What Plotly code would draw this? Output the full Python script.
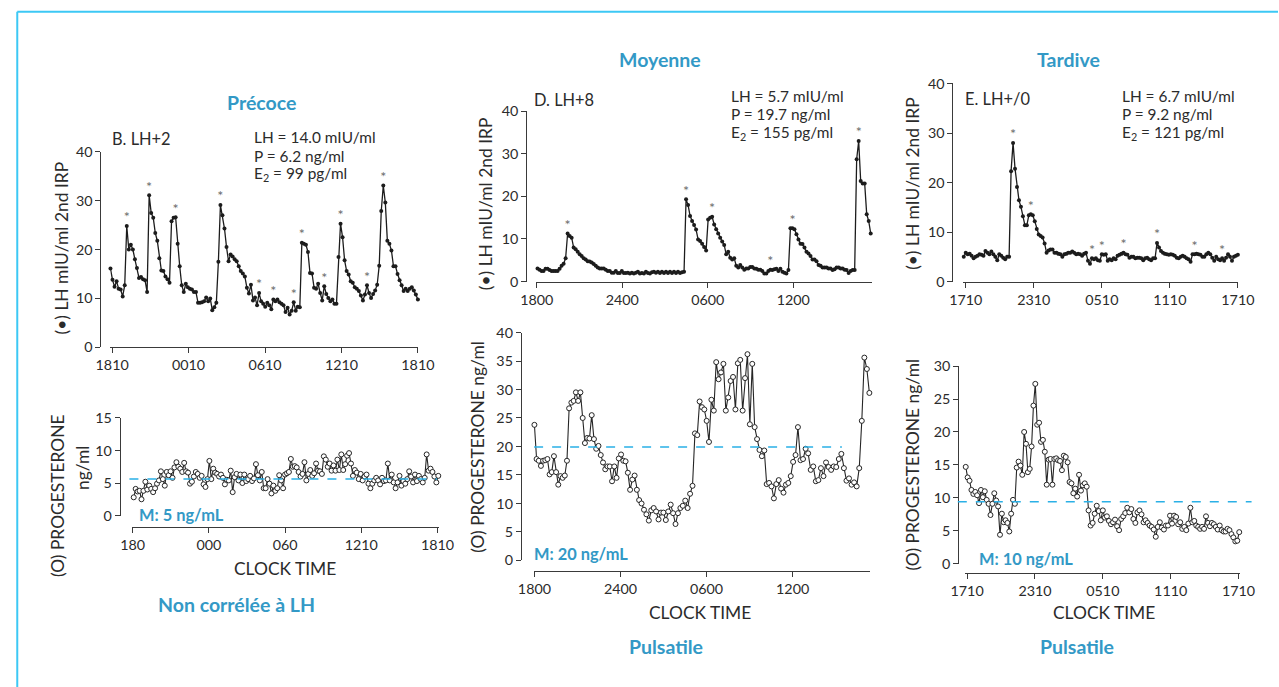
import numpy as np
import plotly.graph_objects as go

# Calibration of the photographed page: a figure pixel f lands at
# A + S * f in the picture. Everything below is laid out in picture pixels.
AX, SX = 15.5, 0.976
AY, SY = 7.7, 0.977
W, H = 1294, 695
FS = 1 / SX  # font scale so text keeps its picture size

FONT = "Lato"
INK = "#2b2b2b"
BLUE_TXT = "#3399c6"
BLUE_LINE = "#2ab0e6"
BORDER = "#3cc8f5"

# ---------------- data ----------------
hour_ticks = [0, 6, 12, 18, 24]
B_lh_ticklabels = ["1810", "0010", "0610", "1210", "1810"]
B_p_ticklabels = ["180", "000", "060", "1210", "1810"]
D_hour_ticks = [0, 6, 12, 18]
D_ticklabels = ["1800", "2400", "0600", "1200"]
E_ticklabels = ["1710", "2310", "0510", "1110", "1710"]

# Panel B (LH+2) - LH, mIU/ml
B_lh = [16.1, 13.8, 12.4, 13.5, 12.0, 11.8, 10.4, 12.7, 24.8, 20.0,
        21.0, 20.0, 18.0, 16.2, 14.2, 14.4, 13.9, 13.7, 11.3, 31.1,
        27.5, 26.5, 23.4, 21.8, 18.2, 15.7, 15.6, 14.5, 13.9, 13.2,
        25.8, 26.5, 26.6, 21.2, 16.6, 12.7, 11.3, 13.0, 12.3, 12.0,
        11.8, 11.3, 11.3, 9.1, 9.1, 9.2, 9.4, 10.2, 9.4, 10.0,
        7.6, 8.2, 9.1, 17.5, 29.1, 27.0, 24.3, 20.5, 17.6, 19.0,
        18.6, 18.0, 17.6, 16.6, 15.6, 15.1, 14.5, 12.2, 11.0, 12.8,
        9.6, 10.2, 8.6, 11.1, 9.4, 8.9, 8.3, 9.1, 8.6, 7.8,
        9.8, 9.4, 9.8, 9.2, 8.9, 8.6, 7.2, 8.1, 6.7, 7.5,
        9.2, 7.5, 8.3, 8.2, 21.4, 21.2, 21.0, 19.5, 15.2, 15.1,
        12.2, 12.0, 13.0, 11.1, 9.6, 12.5, 10.9, 10.1, 9.4, 9.8,
        8.9, 8.9, 18.5, 25.3, 22.5, 17.8, 15.6, 14.9, 13.5, 13.2,
        12.3, 12.0, 11.5, 10.6, 9.6, 10.8, 12.7, 11.1, 10.1, 10.9,
        11.6, 12.8, 16.7, 27.9, 33.1, 29.6, 21.8, 21.2, 19.8, 16.6,
        16.6, 15.0, 13.7, 12.7, 11.5, 12.0, 11.5, 12.0, 12.3, 11.6,
        10.8, 9.8]
B_lh_anchor_idx = [0, 151]
B_lh_anchor_h = [-0.13, 24.0]
B_lh_pulses = [8, 19, 32, 54, 73, 80, 90, 94, 105, 113, 126, 134]

# Panel B - progesterone, ng/ml
B_p = [2.8, 4.1, 3.7, 3.8, 2.5, 3.8, 5.2, 4.0, 4.6, 4.1,
       3.6, 4.2, 4.9, 5.4, 6.8, 5.6, 4.6, 6.7, 6.2, 6.8,
       5.8, 7.4, 8.2, 7.5, 7.2, 6.7, 8.1, 6.8, 6.6, 4.9,
       5.2, 6.0, 6.7, 6.4, 5.8, 6.1, 4.8, 4.4, 5.6, 8.4,
       5.6, 7.2, 6.6, 6.4, 6.0, 6.3, 5.8, 4.8, 5.5, 5.4,
       6.9, 3.6, 5.9, 6.4, 5.4, 6.3, 5.0, 6.3, 5.3, 5.6,
       6.1, 5.3, 5.7, 7.9, 6.2, 5.4, 6.7, 4.2, 4.2, 5.6,
       4.9, 3.4, 4.6, 3.8, 4.2, 6.2, 5.4, 4.2, 6.3, 6.5,
       6.7, 8.7, 7.5, 7.6, 7.4, 6.7, 6.0, 6.4, 8.2, 5.4,
       6.4, 7.0, 6.1, 6.5, 8.0, 6.9, 6.8, 6.4, 9.1, 8.6,
       7.5, 8.0, 6.9, 7.7, 6.9, 8.6, 7.0, 9.4, 7.0, 7.9,
       9.2, 9.6, 8.0, 6.1, 7.0, 6.6, 5.6, 6.4, 5.4, 6.0,
       6.3, 4.9, 4.2, 4.9, 5.4, 5.8, 5.4, 4.8, 5.8, 5.3,
       5.4, 8.0, 5.4, 6.3, 5.1, 4.2, 5.1, 6.1, 4.6, 5.3,
       4.9, 5.6, 6.8, 6.0, 5.1, 6.3, 5.3, 6.1, 5.6, 5.1,
       5.8, 9.4, 6.9, 7.2, 6.7, 6.0, 5.1, 6.1]
B_p_anchor_idx = [0, 157]
B_p_anchor_h = [0.08, 24.06]
B_p_mean_level = 5.6
B_p_label = "M: 5 ng/mL"

# Panel D (LH+8) - LH
D_lh = [3.1, 2.8, 2.5, 2.5, 3.0, 3.0, 2.7, 2.5, 2.5, 2.5,
        2.5, 3.0, 3.7, 4.2, 5.5, 11.3, 10.7, 10.3, 8.0, 7.6,
        7.0, 6.4, 6.0, 5.5, 5.2, 4.8, 4.7, 4.5, 4.1, 3.7,
        3.3, 3.1, 3.1, 3.1, 2.8, 2.5, 2.5, 2.1, 2.1, 2.5,
        2.0, 2.0, 2.5, 2.0, 2.0, 2.1, 1.9, 2.1, 1.9, 2.1,
        2.3, 1.9, 2.0, 1.9, 2.3, 2.0, 1.9, 2.2, 2.3, 2.1,
        2.3, 2.0, 2.3, 2.0, 2.3, 2.0, 2.3, 2.0, 2.3, 2.0,
        2.3, 2.0, 2.2, 2.3, 19.3, 18.0, 15.4, 14.2, 13.3, 12.2,
        9.9, 9.5, 8.9, 8.1, 7.3, 14.6, 15.0, 15.2, 13.4, 12.3,
        11.3, 10.3, 9.4, 8.6, 6.4, 7.0, 5.6, 5.2, 5.5, 3.7,
        3.3, 3.9, 3.3, 2.8, 3.1, 3.1, 3.4, 3.4, 3.1, 3.0,
        2.8, 2.8, 2.5, 1.9, 1.9, 2.5, 2.8, 2.7, 2.9, 3.0,
        2.5, 3.0, 2.3, 2.1, 1.9, 2.7, 12.5, 12.5, 12.3, 11.1,
        9.9, 8.9, 8.8, 8.0, 7.0, 6.6, 6.0, 5.2, 5.2, 4.8,
        3.9, 3.7, 3.3, 3.3, 3.3, 3.1, 3.1, 2.7, 2.9, 3.3,
        3.3, 3.1, 3.1, 2.8, 2.7, 2.0, 2.5, 2.7, 2.7, 28.7,
        33.0, 23.6, 23.0, 23.0, 15.8, 14.2, 11.3]
D_lh_anchor_idx = [0, 166]
D_lh_anchor_h = [0.05, 23.44]
D_lh_pulses = [15, 74, 87, 116, 127, 160]

# Panel D - progesterone
D_p = [23.8, 17.8, 17.5, 16.6, 17.5, 17.6, 17.8, 15.1, 15.5, 18.3,
       15.5, 13.3, 14.8, 14.5, 14.9, 17.5, 26.7, 27.7, 28.0, 29.5,
       28.0, 29.5, 25.0, 20.6, 21.5, 21.4, 25.5, 21.3, 19.6, 20.1,
       18.5, 17.2, 16.0, 16.5, 16.5, 13.9, 16.5, 14.5, 17.9, 18.6,
       17.5, 17.4, 15.4, 12.4, 14.2, 14.9, 12.4, 10.6, 10.0, 8.9,
       8.1, 7.0, 8.8, 9.2, 8.6, 7.2, 8.4, 8.4, 7.1, 8.6,
       9.8, 8.3, 6.4, 8.3, 9.2, 9.6, 10.5, 9.2, 11.7, 13.1,
       22.3, 22.0, 27.9, 26.9, 26.5, 24.5, 20.8, 28.2, 26.3, 34.8,
       31.8, 33.0, 34.5, 26.3, 28.6, 31.5, 32.2, 26.5, 34.6, 35.2,
       26.3, 32.0, 36.2, 23.9, 34.5, 23.4, 21.3, 19.4, 18.3, 19.3,
       13.4, 13.6, 13.0, 10.9, 13.4, 14.1, 12.6, 11.9, 13.3, 13.6,
       14.8, 17.3, 18.5, 23.4, 17.6, 17.8, 19.6, 18.8, 15.9, 16.5,
       13.9, 14.1, 16.2, 14.8, 17.2, 16.4, 15.9, 16.5, 16.4, 17.8,
       18.7, 16.2, 14.0, 14.4, 13.3, 13.7, 13.0, 16.2, 24.5, 35.6,
       33.6, 29.4]
D_p_anchor_idx = [0, 16, 47, 70, 76, 113, 139, 141]
D_p_anchor_h = [0.0, 2.42, 7.30, 11.19, 12.17, 18.37, 23.0, 23.35]
D_p_mean_level = 19.9
D_p_label = "M: 20 ng/mL"

# Panel E (LH+/0) - LH
E_lh = [5.0, 5.8, 5.5, 5.6, 5.2, 4.7, 5.0, 5.2, 5.5, 5.4,
        5.2, 6.2, 5.8, 5.5, 6.1, 5.5, 5.0, 4.3, 5.5, 5.2,
        4.8, 4.5, 5.0, 5.0, 22.3, 28.0, 22.8, 19.1, 16.4, 15.1,
        13.2, 11.4, 11.4, 13.4, 13.6, 13.4, 12.2, 10.6, 9.5, 9.2,
        8.9, 7.7, 5.8, 6.3, 6.5, 6.5, 5.8, 5.8, 5.6, 5.5,
        5.0, 5.5, 5.6, 5.8, 5.8, 6.1, 5.8, 5.5, 5.6, 5.5,
        5.2, 5.6, 5.8, 4.2, 3.6, 4.7, 4.5, 4.7, 4.3, 4.2,
        5.5, 5.4, 5.5, 4.2, 4.5, 4.3, 4.7, 4.5, 5.2, 5.4,
        5.6, 5.8, 5.5, 5.4, 4.8, 5.0, 5.0, 4.7, 4.8, 4.8,
        4.7, 4.3, 4.7, 4.8, 4.5, 4.3, 4.7, 4.7, 7.8, 6.9,
        6.2, 5.8, 5.6, 5.5, 5.4, 5.5, 5.4, 5.2, 4.8, 4.7,
        5.0, 5.2, 5.0, 4.7, 4.5, 4.0, 5.5, 5.5, 5.6, 5.5,
        5.4, 5.0, 5.0, 5.5, 5.8, 5.5, 4.8, 4.2, 5.0, 4.5,
        4.3, 4.7, 4.2, 4.8, 5.5, 5.0, 4.2, 5.0, 5.2, 5.4]
E_lh_anchor_idx = [0, 139]
E_lh_anchor_h = [-0.18, 24.0]
E_lh_pulses = [25, 34, 65, 70, 81, 98, 117, 131]

# Panel E - progesterone
E_p = [14.7, 13.1, 12.6, 11.2, 10.6, 10.9, 10.4, 9.2, 11.2, 10.1,
       11.0, 9.7, 9.1, 7.4, 9.1, 10.7, 9.6, 8.7, 4.4, 7.6,
       6.3, 6.6, 6.2, 4.9, 7.6, 9.7, 9.1, 14.6, 15.5, 14.9,
       13.5, 20.0, 18.2, 13.9, 14.4, 17.8, 24.0, 27.3, 21.1, 21.4,
       18.5, 18.8, 17.0, 12.0, 15.8, 15.9, 12.0, 15.9, 16.0, 15.7,
       15.6, 14.2, 16.4, 16.2, 15.4, 12.4, 12.2, 10.7, 11.4, 10.2,
       13.5, 11.1, 11.9, 12.2, 11.7, 8.1, 5.8, 6.2, 7.6, 8.8,
       8.0, 6.6, 8.1, 7.0, 7.2, 6.5, 6.0, 6.3, 6.7, 5.7,
       5.1, 6.8, 7.2, 7.7, 8.5, 7.8, 8.3, 6.8, 6.2, 7.8,
       8.1, 7.5, 6.3, 6.6, 6.2, 5.8, 5.6, 5.2, 4.1, 5.6,
       6.3, 5.5, 5.2, 5.8, 5.8, 7.3, 6.1, 7.3, 7.1, 6.0,
       6.3, 5.3, 5.6, 5.1, 6.1, 8.5, 6.3, 6.5, 5.8, 5.6,
       5.3, 5.6, 5.3, 7.2, 6.2, 5.7, 6.2, 6.0, 5.6, 5.2,
       5.8, 5.1, 4.9, 4.9, 5.3, 5.1, 4.5, 4.0, 3.4, 3.5,
       4.8]
E_p_anchor_idx = [0, 18, 37, 65, 115, 140]
E_p_anchor_h = [-0.12, 2.91, 6.03, 10.74, 19.74, 24.06]
E_p_mean_level = 9.4
E_p_label = "M: 10 ng/mL"


def sample_hours(values, a_idx, a_h):
    return np.interp(np.arange(len(values)), a_idx, a_h)


# ---------------- helpers (picture pixels -> paper fractions) ----------------
def fx(px):
    return (px - AX) / SX / W


def fy(py):
    return 1 - (py - AY) / SY / H


def fs(size):
    return round(size * FS, 1)


fig = go.Figure()
layout_axes = {}
shapes = []
annotations = []


def add_panel(n, x0px, ppu, xr, y0px, ytop_px, ytop, ydtick, yline_px,
              xline_px, tickvals, ticktext):
    xa = "xaxis" if n == 1 else f"xaxis{n}"
    ya = "yaxis" if n == 1 else f"yaxis{n}"
    ax_common = dict(showline=True, linecolor="#3a3a3a", linewidth=1,
                     ticks="outside", ticklen=5, tickwidth=1, tickcolor="#3a3a3a",
                     showgrid=False, zeroline=False,
                     tickfont=dict(family=FONT, size=fs(14), color=INK))
    xdict = dict(ax_common, domain=[fx(x0px + xr[0] * ppu), fx(x0px + xr[1] * ppu)],
                 range=xr, tickvals=tickvals, ticktext=ticktext)
    if xline_px is None:
        xdict["anchor"] = "y" if n == 1 else f"y{n}"
    else:
        xdict["anchor"] = "free"
        xdict["position"] = fy(xline_px)
    ydict = dict(ax_common, domain=[fy(y0px), fy(ytop_px)], range=[0, ytop],
                 dtick=ydtick, tick0=0, anchor="free", position=fx(yline_px))
    layout_axes[xa] = xdict
    layout_axes[ya] = ydict
    return ("x" if n == 1 else f"x{n}"), ("y" if n == 1 else f"y{n}")


def lh_trace(xax, yax, vals, aidx, ah, pulses):
    t = sample_hours(vals, aidx, ah)
    fig.add_trace(go.Scatter(x=t, y=vals, xaxis=xax, yaxis=yax, mode="lines+markers",
                             line=dict(color="#1c1c1c", width=1.3),
                             marker=dict(size=4, color="#1c1c1c"),
                             cliponaxis=False, hoverinfo="skip"))
    fig.add_trace(go.Scatter(x=[t[i] for i in pulses], y=[vals[i] for i in pulses],
                             xaxis=xax, yaxis=yax, mode="text", text=["*"] * len(pulses),
                             textposition="top center",
                             textfont=dict(family=FONT, size=fs(14), color="#6a6a6a"),
                             cliponaxis=False, hoverinfo="skip"))


def p_trace(xax, yax, vals, aidx, ah):
    t = sample_hours(vals, aidx, ah)
    fig.add_trace(go.Scatter(x=t, y=vals, xaxis=xax, yaxis=yax, mode="lines+markers",
                             line=dict(color="#262626", width=1.1),
                             marker=dict(size=5, color="white",
                                         line=dict(color="#262626", width=1)),
                             cliponaxis=False, hoverinfo="skip"))


def dashed(yax, level, x0px, x1px):
    shapes.append(dict(type="line", xref="paper", yref=yax,
                       x0=fx(x0px), x1=fx(x1px), y0=level, y1=level,
                       line=dict(color=BLUE_LINE, width=1.5, dash="dash")))


def ann(text, xpx, ypx, size, color=INK, bold=False, xanchor="center", angle=0):
    if bold:
        text = f"<b>{text}</b>"
    annotations.append(dict(text=text, x=fx(xpx), y=fy(ypx), xref="paper", yref="paper",
                            xanchor=xanchor, yanchor="middle", showarrow=False,
                            textangle=angle,
                            font=dict(family=FONT, size=fs(size), color=color)))


# ---------------- panels ----------------
xa, ya = add_panel(1, 111.7, 12.75, [-0.15, 24.02], 346.5, 150.7, 40, 10, 100, None,
                   hour_ticks, B_lh_ticklabels)
lh_trace(xa, ya, B_lh, B_lh_anchor_idx, B_lh_anchor_h, B_lh_pulses)

xa, ya = add_panel(2, 132.3, 12.71, [-0.02, 24.1], 515, 417.3, 15, 5, 119.3, 526,
                   hour_ticks, B_p_ticklabels)
p_trace(xa, ya, B_p, B_p_anchor_idx, B_p_anchor_h)
dashed(ya, B_p_mean_level, 129, 437)

xa, ya = add_panel(3, 536.7, 14.256, [-0.05, 23.5], 280.7, 110, 40, 10, 526, None,
                   D_hour_ticks, D_ticklabels)
lh_trace(xa, ya, D_lh, D_lh_anchor_idx, D_lh_anchor_h, D_lh_pulses)

xa, ya = add_panel(4, 534.3, 14.356, [-0.05, 23.4], 560, 331.7, 40, 5, 520.7, 570.7,
                   D_hour_ticks, D_ticklabels)
p_trace(xa, ya, D_p, D_p_anchor_idx, D_p_anchor_h)
dashed(ya, D_p_mean_level, 534, 842)

xa, ya = add_panel(5, 966, 11.346, [-0.22, 24.03], 280.7, 82.3, 40, 10, 952.7, None,
                   hour_ticks, E_ticklabels)
lh_trace(xa, ya, E_lh, E_lh_anchor_idx, E_lh_anchor_h, E_lh_pulses)

xa, ya = add_panel(6, 967.3, 11.32, [-0.15, 24.1], 563.3, 365.3, 30, 5, 958.3, 572.3,
                   hour_ticks, E_ticklabels)
p_trace(xa, ya, E_p, E_p_anchor_idx, E_p_anchor_h)
dashed(ya, E_p_mean_level, 958, 1252)

# ---------------- text ----------------
ann("Précoce", 261, 101, 19, BLUE_TXT, bold=True)
ann("Moyenne", 660, 58, 19, BLUE_TXT, bold=True)
ann("Tardive", 1069, 58, 19, BLUE_TXT, bold=True)
ann("Non corrélée à LH", 236, 604, 19, BLUE_TXT, bold=True)
ann("Pulsatile", 666, 646, 19, BLUE_TXT, bold=True)
ann("Pulsatile", 1077, 646, 19, BLUE_TXT, bold=True)

ann("B. LH+2", 110, 137, 16, xanchor="left")
ann("LH = 14.0 mIU/ml", 252, 136, 15, xanchor="left")
ann("P = 6.2 ng/ml", 252, 155, 15, xanchor="left")
ann("E<sub>2</sub> = 99 pg/ml", 252, 173, 15, xanchor="left")

ann("D. LH+8", 532, 98, 16, xanchor="left")
ann("LH = 5.7 mIU/ml", 729, 95, 15, xanchor="left")
ann("P = 19.7 ng/ml", 729, 113, 15, xanchor="left")
ann("E<sub>2</sub> = 155 pg/ml", 729, 132, 15, xanchor="left")

ann("E. LH+/0", 963, 97, 16, xanchor="left")
ann("LH = 6.7 mIU/ml", 1120, 95, 15, xanchor="left")
ann("P = 9.2 ng/ml", 1120, 113, 15, xanchor="left")
ann("E<sub>2</sub> = 121 pg/ml", 1120, 132, 15, xanchor="left")

ann(B_p_label, 137, 514, 16, BLUE_TXT, bold=True, xanchor="left")
ann(D_p_label, 532, 553, 16, BLUE_TXT, bold=True, xanchor="left")
ann(E_p_label, 977, 558, 16, BLUE_TXT, bold=True, xanchor="left")

ann("(•) LH mIU/ml 2nd IRP", 61, 247, 17, angle=-90)
ann("(O) PROGESTERONE", 57, 495, 17, angle=-90)
ann("ng/ml", 82, 467, 17, angle=-90)
ann("(•) LH mIU/ml 2nd IRP", 485, 203, 17, angle=-90)
ann("(O) PROGESTERONE ng/ml", 477, 446, 17, angle=-90)
ann("(•) LH mIU/ml 2nd IRP", 912, 182, 17, angle=-90)
ann("(O) PROGESTERONE ng/ml", 913, 464, 17, angle=-90)

ann("CLOCK TIME", 285, 568, 17)
ann("CLOCK TIME", 700, 612, 17)
ann("CLOCK TIME", 1104, 612, 17)

# border: top edge and left edge (left edge kept inside the drawable area)
left_edge = max(fx(10), 0.001)
shapes.append(dict(type="line", xref="paper", yref="paper", x0=left_edge, x1=1,
                   y0=fy(10.5), y1=fy(10.5), line=dict(color=BORDER, width=2)))
shapes.append(dict(type="line", xref="paper", yref="paper", x0=left_edge, x1=left_edge,
                   y0=fy(10.5), y1=0, line=dict(color=BORDER, width=2)))

fig.update_layout(width=W, height=H, margin=dict(l=0, r=0, t=0, b=0),
                  paper_bgcolor="white", plot_bgcolor="rgba(0,0,0,0)",
                  showlegend=False, font=dict(family=FONT, color=INK),
                  shapes=shapes, annotations=annotations, **layout_axes)

page_css = ("var s=document.documentElement.style, b=document.body.style;"
            "s.margin='0'; s.padding='0'; b.margin='0'; b.padding='0';")
fig.write_html("out.html", config={"displayModeBar": False}, post_script=page_css)
